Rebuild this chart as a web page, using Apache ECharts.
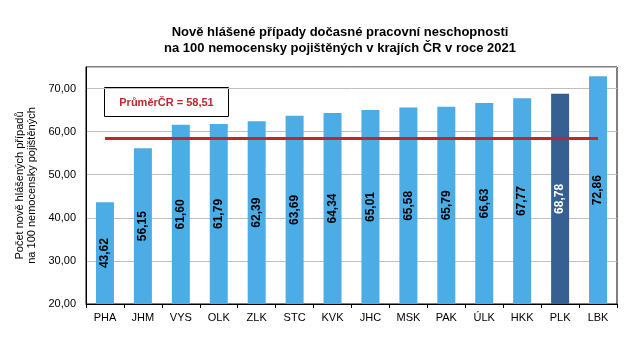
<!DOCTYPE html>
<html><head><meta charset="utf-8">
<script src="https://cdn.jsdelivr.net/npm/echarts@6/dist/echarts.min.js"></script>
<style>html,body{margin:0;padding:0;background:#fff}#c{width:639px;height:363px}</style>
</head><body><div id="c"></div>
<script>
const categories = ['PHA','JHM','VYS','OLK','ZLK','STC','KVK','JHC','MSK','PAK','ÚLK','HKK','PLK','LBK'];
const values = [43.62,56.15,61.60,61.79,62.39,63.69,64.34,65.01,65.58,65.79,66.63,67.77,68.78,72.86];
const highlight = 'PLK';
const average = 58.51;
const titleText = 'Nově hlášené případy dočasné pracovní neschopnosti\nna 100 nemocensky pojištěných v krajích ČR v roce 2021';
const yName = 'Počet nově hlášených případů\nna 100 nemocensky pojištěných';
const avgLabel = 'PrůměrČR = 58,51';

const FONT = '"Liberation Sans", Arial, sans-serif';
const fmt = v => v.toFixed(2).replace('.', ',');
const chart = echarts.init(document.getElementById('c'), null, {renderer: 'canvas'});
chart.setOption({
  animation: false,
  backgroundColor: '#fff',
  title: {
    text: titleText, left: 335, top: 19, textAlign: 'center',
    textStyle: {fontFamily: FONT, fontSize: 13, fontWeight: 'bold', color: '#000', lineHeight: 16}
  },
  grid: {left: 86, right: 22, top: 67, bottom: 59, show: true, borderColor: '#000', borderWidth: 1, backgroundColor: '#fff'},
  xAxis: {
    type: 'category', data: categories,
    axisLine: {lineStyle: {color: '#000', width: 1}},
    axisTick: {show: true, length: 4, lineStyle: {color: '#000'}},
    axisLabel: {fontFamily: FONT, fontSize: 11, color: '#000', margin: 8}
  },
  yAxis: {
    type: 'value', min: 20, max: 75, interval: 10,
    name: yName, nameLocation: 'middle', nameGap: 42, nameRotate: 90,
    nameTextStyle: {fontFamily: FONT, fontSize: 11, color: '#000', lineHeight: 12},
    axisLine: {show: true, lineStyle: {color: '#000'}},
    axisTick: {show: false},
    axisLabel: {fontFamily: FONT, fontSize: 11, color: '#000', margin: 10, showMaxLabel: false,
      formatter: v => (v === 75 ? '' : fmt(v))},
    splitLine: {lineStyle: {color: '#BFBFBF', width: 1}}
  },
  graphic: [{
    type: 'group', left: 104, top: 87,
    children: [
      {type: 'rect', shape: {x: 0, y: 0, width: 124, height: 29}, style: {fill: '#fff', stroke: '#000', lineWidth: 1}},
      {type: 'text', x: 62, y: 15, style: {text: avgLabel, fill: '#C0262D', font: 'bold 11px ' + FONT, textAlign: 'center', textVerticalAlign: 'middle'}}
    ]
  }],
  series: [{
    type: 'bar', barWidth: 18,
    data: values.map((v, i) => ({
      value: v,
      itemStyle: {color: categories[i] === highlight ? '#376092' : '#4BACE6'},
      label: {color: categories[i] === highlight ? '#fff' : '#000'}
    })),
    label: {show: true, position: 'inside', rotate: 90, fontFamily: FONT, fontSize: 12, fontWeight: 'bold',
      formatter: p => fmt(p.value)},
    markLine: {
      silent: true, symbol: 'none', label: {show: false},
      lineStyle: {color: '#C0262D', width: 3, type: 'solid'},
      data: [[{coord: [0, average]}, {coord: [categories.length - 1, average]}]]
    },
    z: 2
  }]
});
</script></body></html>
